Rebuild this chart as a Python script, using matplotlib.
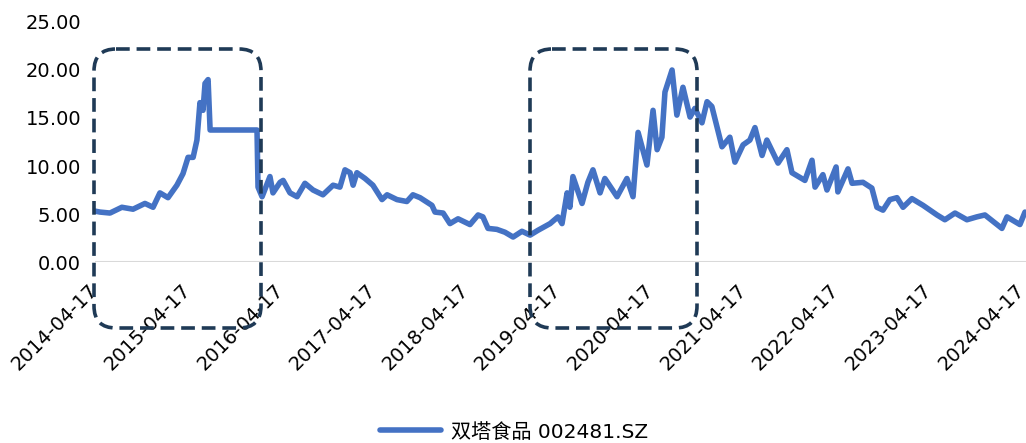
import numpy as np
import pandas as pd
import matplotlib
matplotlib.use("Agg")
import matplotlib.pyplot as plt
import matplotlib.dates as mdates
from matplotlib.patches import FancyBboxPatch

plt.rcParams['font.family'] = ['DejaVu Sans', 'Noto Sans CJK SC']

# close price, 双塔食品 002481.SZ
dates = [
    '2014-04-17', '2014-05-07', '2014-06-15', '2014-08-01', '2014-09-14', '2014-10-31',
    '2014-12-02', '2014-12-29', '2015-01-30', '2015-03-06', '2015-03-30', '2015-04-19',
    '2015-05-09', '2015-05-24', '2015-06-05', '2015-06-17', '2015-06-25', '2015-07-07',
    '2015-07-15', '2016-01-16', '2016-01-20', '2016-02-05', '2016-03-07', '2016-03-19',
    '2016-04-16', '2016-04-28', '2016-05-25', '2016-06-22', '2016-07-23', '2016-08-24',
    '2016-10-02', '2016-11-11', '2016-12-08', '2016-12-28', '2017-01-17', '2017-01-29',
    '2017-02-13', '2017-03-17', '2017-04-17', '2017-05-23', '2017-06-12', '2017-07-21',
    '2017-08-29', '2017-09-22', '2017-10-20', '2017-12-06', '2017-12-18', '2018-01-19',
    '2018-02-15', '2018-03-19', '2018-05-05', '2018-06-06', '2018-06-25', '2018-07-15',
    '2018-08-19', '2018-09-20', '2018-10-22', '2018-11-26', '2018-12-28', '2019-01-28',
    '2019-03-17', '2019-04-17', '2019-05-03', '2019-05-23', '2019-06-03', '2019-06-15',
    '2019-07-21', '2019-08-13', '2019-09-02', '2019-09-30', '2019-10-19', '2019-12-06',
    '2020-01-14', '2020-02-07', '2020-02-27', '2020-04-02', '2020-04-26', '2020-05-12',
    '2020-05-31', '2020-06-12', '2020-07-10', '2020-07-29', '2020-08-22', '2020-09-19',
    '2020-10-08', '2020-11-05', '2020-11-25', '2020-12-14', '2021-01-23', '2021-02-23',
    '2021-03-15', '2021-04-16', '2021-05-13', '2021-06-02', '2021-06-30', '2021-07-19',
    '2021-09-01', '2021-10-06', '2021-10-26', '2021-12-16', '2022-01-13', '2022-01-25',
    '2022-02-25', '2022-03-13', '2022-04-18', '2022-04-25', '2022-06-04', '2022-06-20',
    '2022-08-02', '2022-09-06', '2022-09-26', '2022-10-20', '2022-11-16', '2022-12-14',
    '2023-01-07', '2023-02-11', '2023-03-27', '2023-05-21', '2023-06-21', '2023-07-31',
    '2023-09-16', '2023-10-25', '2023-11-26', '2024-02-01', '2024-02-21', '2024-04-12',
    '2024-05-02',
]
close = [
    5.3, 5.2, 5.1, 5.7, 5.5, 6.1,
    5.7, 7.2, 6.7, 8.0, 9.2, 10.9,
    10.9, 12.7, 16.6, 15.8, 18.6, 19.0,
    13.75, 13.75, 7.8, 6.8, 8.9, 7.2,
    8.3, 8.5, 7.2, 6.8, 8.2, 7.5,
    7.0, 8.0, 7.8, 9.6, 9.3, 8.0,
    9.3, 8.7, 8.0, 6.5, 7.0, 6.5,
    6.3, 7.0, 6.7, 5.9, 5.2, 5.1,
    4.0, 4.5, 3.9, 4.9, 4.7, 3.5,
    3.4, 3.1, 2.6, 3.2, 2.8, 3.3,
    4.0, 4.7, 4.0, 7.2, 5.7, 8.9,
    6.1, 8.3, 9.6, 7.2, 8.7, 6.8,
    8.7, 6.8, 13.5, 10.1, 15.8, 11.7,
    13.0, 17.7, 20.0, 15.3, 18.2, 15.1,
    16.0, 14.5, 16.7, 16.2, 12.0, 13.0,
    10.4, 12.2, 12.7, 14.0, 11.1, 12.7,
    10.3, 11.7, 9.3, 8.5, 10.6, 7.8,
    9.1, 7.5, 9.9, 7.3, 9.7, 8.2,
    8.3, 7.7, 5.7, 5.4, 6.5, 6.7,
    5.7, 6.6, 5.9, 4.9, 4.4, 5.1,
    4.4, 4.7, 4.9, 3.5, 4.7, 3.9,
    5.2,
]
series_name = '双塔食品 002481.SZ'
tick_dates = ['%d-04-17' % y for y in range(2014, 2025)]
y_ticks = [0, 5, 10, 15, 20, 25]

# dashed frames around the two rallies (figure pixels: left, top, right, bottom)
frames = [(94, 49, 261, 328), (530, 49, 697, 328)]

W, H = 1026, 443
fig = plt.figure(figsize=(W / 100, H / 100), dpi=100)
ax = fig.add_axes([95 / W, (H - 262) / H, (W - 95) / W, 240 / H])

x = pd.to_datetime(dates)
line, = ax.plot(x, close, color='#4472C4', lw=4.0, solid_joinstyle='round',
                solid_capstyle='round', label=series_name, zorder=3)
ax.axhline(0, color='#D9D9D9', lw=1.5, zorder=1)

ax.set_ylim(0, 25)
ax.set_yticks(y_ticks)
ax.set_yticklabels(['%.2f' % v for v in y_ticks], fontsize=14)
ax.set_xlim(pd.Timestamp('2014-04-17'), pd.Timestamp('2024-05-06'))
ax.set_xticks(pd.to_datetime(tick_dates))
ax.xaxis.set_major_formatter(mdates.DateFormatter('%Y-%m-%d'))
for lab in ax.get_xticklabels():
    lab.set_rotation(45)
    lab.set_ha('right')
    lab.set_va('center')
    lab.set_rotation_mode('anchor')
    lab.set_fontsize(14)
ax.tick_params(axis='both', length=0)
ax.tick_params(axis='y', pad=10)
ax.tick_params(axis='x', pad=18)
for s in ax.spines.values():
    s.set_visible(False)
ax.set_facecolor('none')

fig.legend(handles=[line], loc='center', bbox_to_anchor=(514 / W, 11 / H),
           frameon=False, fontsize=14.5, handlelength=3.0, handletextpad=0.5)

# overlay in pixel units for the frames
ov = fig.add_axes([0, 0, 1, 1], zorder=5)
ov.set_xlim(0, W)
ov.set_ylim(H, 0)
ov.axis('off')
for l, t, r, b in frames:
    ov.add_patch(FancyBboxPatch((l, t), r - l, b - t,
                                boxstyle='round,pad=0,rounding_size=22',
                                fill=False, ec='#1F3A56', lw=2.6,
                                ls=(0, (3.8, 1.9))))

fig.savefig('out.png', dpi=100)
